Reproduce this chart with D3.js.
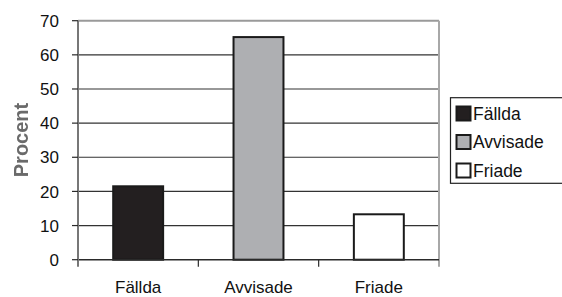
<!DOCTYPE html>
<html>
<head>
<meta charset="utf-8">
<script src="https://cdn.jsdelivr.net/npm/d3@7"></script>
<style>
  html, body { margin: 0; padding: 0; background: #fff; }
  svg { display: block; }
</style>
</head>
<body>
<div id="chart"></div>
<script>
// kategorier och andelar (procent)
const CATS = ["Fällda", "Avvisade", "Friade"];
const VALUES = [21.5, 65.2, 13.3];
const FILLS = ["#231f20", "#aeafb2", "#ffffff"];
const Y_TICKS = [0, 10, 20, 30, 40, 50, 60, 70];

const W = 562, H = 297;
const m = { t: 20.7, r: 123, b: 37.3, l: 78 };
const FONT = "Liberation Sans, Arial, sans-serif";

const svg = d3.select("#chart").append("svg").attr("width", W).attr("height", H);

// lite oskärpa på y-titeln som i originalet
svg.append("defs").append("filter").attr("id", "soft")
  .append("feGaussianBlur").attr("stdDeviation", 0.5);

const x = d3.scaleBand().domain(CATS).range([m.l, W - m.r])
  .paddingInner(0.585).paddingOuter(0.2925);
const y = d3.scaleLinear().domain([0, 70]).range([H - m.b, m.t]);

const x0 = m.l, x1 = W - m.r;

// rutnät
svg.append("g").selectAll("line").data(Y_TICKS.filter(d => d > 0 && d < 70)).join("line")
  .attr("x1", x0).attr("x2", x1).attr("y1", d => y(d)).attr("y2", d => y(d))
  .attr("stroke", "#333").attr("stroke-width", 1.2);
svg.append("line").attr("x1", x0).attr("x2", x1).attr("y1", y(70)).attr("y2", y(70))
  .attr("stroke", "#9a9a9a").attr("stroke-width", 2);
svg.append("line").attr("x1", x1).attr("x2", x1).attr("y1", y(70)).attr("y2", y(0) + 7)
  .attr("stroke", "#a8a8a8").attr("stroke-width", 2);

// staplar
svg.append("g").selectAll("rect").data(CATS).join("rect")
  .attr("x", d => x(d)).attr("y", (d, i) => y(VALUES[i]))
  .attr("width", x.bandwidth()).attr("height", (d, i) => y(0) - y(VALUES[i]))
  .attr("fill", (d, i) => FILLS[i]).attr("stroke", "#1a1a1a").attr("stroke-width", 2);

// x-axel
svg.append("line").attr("x1", x0).attr("x2", x1).attr("y1", y(0)).attr("y2", y(0))
  .attr("stroke", "#2a2a2a").attr("stroke-width", 1.4);
const step = x.step();
const bounds = CATS.map(c => x(c) - (step - x.bandwidth()) / 2).concat([x1]);
svg.append("g").selectAll("line").data(bounds.slice(1, 3)).join("line")
  .attr("x1", d => d).attr("x2", d => d).attr("y1", y(0)).attr("y2", y(0) + 7)
  .attr("stroke", "#2a2a2a").attr("stroke-width", 1.2);
svg.append("g").selectAll("text").data(CATS).join("text")
  .attr("x", d => x(d) + x.bandwidth() / 2).attr("y", 293)
  .attr("text-anchor", "middle").attr("font-family", FONT).attr("font-size", 17)
  .attr("fill", "#111").text(d => d);

// y-axel
svg.append("line").attr("x1", x0).attr("x2", x0).attr("y1", y(70)).attr("y2", y(0) + 7)
  .attr("stroke", "#777").attr("stroke-width", 2);
svg.append("g").selectAll("line").data(Y_TICKS).join("line")
  .attr("x1", x0 - 6).attr("x2", x0).attr("y1", d => y(d)).attr("y2", d => y(d))
  .attr("stroke", "#2a2a2a").attr("stroke-width", 1.2);
svg.append("g").selectAll("text").data(Y_TICKS).join("text")
  .attr("x", 59).attr("y", d => y(d)).attr("dy", "0.36em")
  .attr("text-anchor", "end").attr("font-family", FONT).attr("font-size", 17)
  .attr("fill", "#111").text(d => d);

svg.append("text").attr("transform", "translate(28,140) rotate(-90)")
  .attr("text-anchor", "middle").attr("font-family", FONT).attr("font-size", 20)
  .attr("font-weight", "bold").attr("fill", "#6a6a6a").attr("filter", "url(#soft)")
  .text("Procent");

// förklaring
const lg = svg.append("g");
lg.append("rect").attr("x", 450.5).attr("y", 97.7).attr("width", 120).attr("height", 85.6)
  .attr("fill", "#fff").attr("stroke", "#222").attr("stroke-width", 1.2);
const rowY = d3.scalePoint().domain(CATS).range([113.5, 170.5]);
CATS.forEach((c, i) => {
  lg.append("rect").attr("x", 456.5).attr("y", rowY(c) - 7).attr("width", 14).attr("height", 14)
    .attr("fill", FILLS[i]).attr("stroke", "#1a1a1a").attr("stroke-width", 2);
  lg.append("text").attr("x", 473).attr("y", rowY(c)).attr("dy", "0.36em")
    .attr("font-family", FONT).attr("font-size", 17.5).attr("fill", "#111").text(c);
});
</script>
</body>
</html>
